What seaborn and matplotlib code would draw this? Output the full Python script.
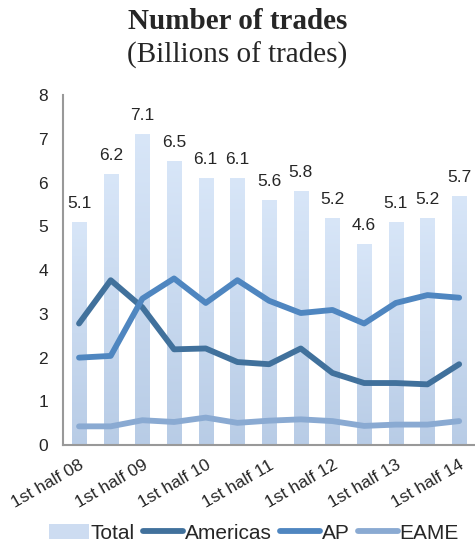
import numpy as np
import pandas as pd
import matplotlib

matplotlib.use("Agg")

import matplotlib.pyplot as plt
import seaborn as sns
from matplotlib.patches import Patch
from matplotlib.lines import Line2D
from matplotlib.colors import LinearSegmentedColormap

sns.set_style("white")
plt.rcParams["font.family"] = ["Liberation Sans", "DejaVu Sans"]

# =========================
# Data (billions of trades)
# =========================
periods = ["1st half 08", "2nd half 08", "1st half 09", "2nd half 09",
           "1st half 10", "2nd half 10", "1st half 11", "2nd half 11",
           "1st half 12", "2nd half 12", "1st half 13", "2nd half 13",
           "1st half 14"]
total = [5.1, 6.2, 7.1, 6.5, 6.1, 6.1, 5.6, 5.8, 5.2, 4.6, 5.1, 5.2, 5.7]
americas = [2.78, 3.77, 3.15, 2.19, 2.21, 1.90, 1.85, 2.21, 1.65, 1.42, 1.42, 1.39, 1.85]
ap = [2.00, 2.04, 3.35, 3.81, 3.25, 3.77, 3.30, 3.02, 3.09, 2.78, 3.25, 3.43, 3.37]
eame = [0.43, 0.43, 0.57, 0.53, 0.63, 0.51, 0.56, 0.59, 0.55, 0.44, 0.47, 0.47, 0.55]

series_names = ["Americas", "AP", "EAME"]
series_colors = ["#41719c", "#4f86c0", "#8aaad2"]
bar_top, bar_bottom = "#d8e6f8", "#b8cce6"

df = pd.DataFrame({"period": periods, "Total": total,
                   "Americas": americas, "AP": ap, "EAME": eame})
df["pos"] = np.arange(len(df))
lines = df.melt(id_vars=["pos"], value_vars=series_names,
                var_name="region", value_name="trades")

fig = plt.figure(figsize=(4.75, 5.53), dpi=100)
ax = fig.add_axes([0.133, 0.195, 0.867, 0.633])

# bars
sns.barplot(data=df, x="period", y="Total", color=bar_bottom, width=0.45,
            ax=ax, zorder=1)

# gradient fill on each bar
cmap = LinearSegmentedColormap.from_list("bar", [bar_bottom, bar_top])
grad = np.linspace(0, 1, 256).reshape(-1, 1)
for p in list(ax.patches):
    x0, w, h = p.get_x(), p.get_width(), p.get_height()
    im = ax.imshow(grad, cmap=cmap, origin="lower", aspect="auto",
                   extent=[x0, x0 + w, 0, h], zorder=1)
    im.set_clip_path(p)
    p.set_facecolor("none")
    p.set_edgecolor("none")

ax.bar_label(ax.containers[0], labels=[f"{v:.1f}" for v in total],
             padding=8, fontsize=12.5)

# lines
sns.lineplot(data=lines, x="pos", y="trades", hue="region",
             palette=dict(zip(series_names, series_colors)), sort=False,
             linewidth=4.2, legend=False, ax=ax, zorder=3)
for ln in ax.lines:
    ln.set_solid_capstyle("round")
    ln.set_solid_joinstyle("round")

# axes
ax.set_xlim(-0.5, len(periods) - 0.5)
ax.set_ylim(0, 8)
ax.set_yticks(range(0, 9))
ax.set_xticks(range(0, len(periods), 2))
ax.set_xticklabels(periods[::2], rotation=30, ha="right",
                   rotation_mode="anchor", fontsize=12.5)
ax.set_xticks(np.arange(-0.5, len(periods), 1), minor=True)
ax.tick_params(axis="x", which="major", length=0, pad=9)
ax.tick_params(axis="x", which="minor", length=5, color="#999999", width=1.2)
ax.tick_params(axis="y", length=5, color="#999999", width=1.2, labelsize=12.5,
               pad=6)
ax.set_xlabel("")
ax.set_ylabel("")
sns.despine(ax=ax)
for s in ["left", "bottom"]:
    ax.spines[s].set_color("#999999")
    ax.spines[s].set_linewidth(1.5)

# titles
serif = ["Liberation Serif", "DejaVu Serif"]
fig.text(0.5, 0.962, "Number of trades", ha="center", va="center",
         fontsize=21, fontweight="bold", family=serif)
fig.text(0.5, 0.900, "(Billions of trades)", ha="center", va="center",
         fontsize=21, family=serif)

# legend
handles = [Patch(facecolor="#cddcf1", edgecolor="none")]
handles += [Line2D([0], [0], color=c, lw=4.2, solid_capstyle="round")
            for c in series_colors]
fig.legend(handles, ["Total"] + series_names, loc="lower center",
           bbox_to_anchor=(0.535, -0.015), ncol=4, frameon=False, fontsize=15,
           handlelength=1.9, handletextpad=0.1, columnspacing=0.4)

fig.savefig("out.png", dpi=100)
plt.close(fig)
